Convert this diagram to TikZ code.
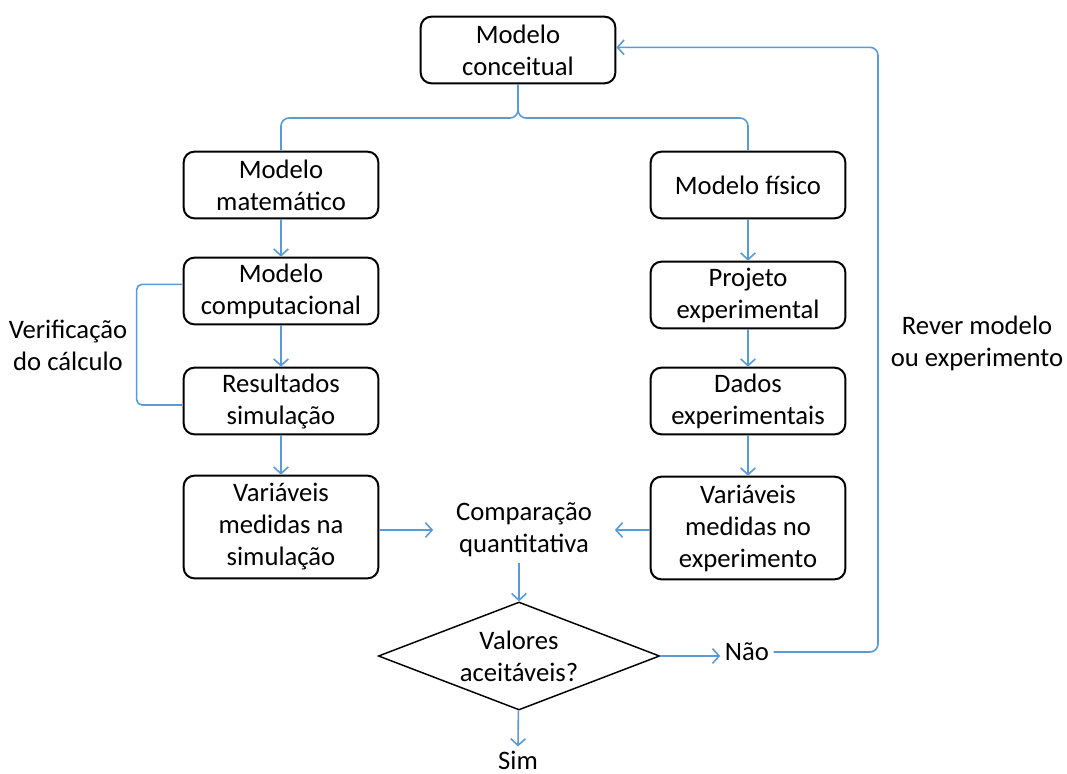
\documentclass[tikz,border=0pt]{standalone}
\usepackage{fontspec}
\setmainfont{Carlito}
\usetikzlibrary{positioning,shapes.geometric,arrows.meta}
\definecolor{linkblue}{RGB}{91,155,213}

\begin{document}
\begin{tikzpicture}[
                x=0.75pt, y=-0.75pt,
                every node/.append style={font=\fontsize{20}{24}\selectfont,align=center},
                box/.style={draw,line width=1.5pt,rounded corners=8pt,minimum width=146pt,minimum height=50pt,inner sep=2pt},
                tallbox/.style={box,minimum height=77pt},
                decision/.style={draw,diamond,aspect=2.6,line width=1.1pt,minimum width=211pt,minimum height=81pt,inner sep=0pt},
                link/.style={draw=linkblue,line width=1.2pt},
                arr/.style={link,-{Straight Barb[length=5pt,width=11pt]}}
            ]
                \useasboundingbox (0,0) rectangle (1067,774);

                % the two branches
                \node[box]      (con)    at (518,50)  {Modelo\\conceitual};
                \node[box]      (mat)    at (281,185) {Modelo\\matemático};
                \node[box]      (fis)    at (748,185) {Modelo físico};
                \node[box]      (comp)   at (281,291) {Modelo\\computacional};
                \node[box]      (proj)   at (748,295) {Projeto\\experimental};
                \node[box]      (res)    at (281,401) {Resultados\\simulação};
                \node[box]      (dados)  at (748,401) {Dados\\experimentais};
                \node[tallbox]  (varsim) at (281,527) {Variáveis\\medidas na\\simulação};
                \node[tallbox]  (varexp) at (748,528) {Variáveis\\medidas no\\experimento};

                % comparison and decision
                \node[inner xsep=17pt,inner ysep=4pt] (cmp) at (524,530) {Comparação\\quantitativa};
                \node[decision] (dec)    at (519,656) {Valores\\aceitáveis?};
                \node           (nao)    at (747,652) {Não};
                \node[inner sep=0pt] (sim) at (518,760) {Sim};

                % side labels
                \node (verif) at (68,345)  {Verificação\\do cálculo};
                \node (rever) at (977,343) {Rever modelo\\ou experimento};

                % brace below the conceptual model
                \coordinate (brace) at (518,118);
                \draw[link,rounded corners=6pt] (mat.north) |- (brace) -- (con.south);
                \draw[link,rounded corners=6pt] (fis.north) |- (brace) -- (con.south);

                \draw[arr] (mat)   -- (comp);
                \draw[arr] (comp)  -- (res);
                \draw[arr] (res)   -- (varsim);
                \draw[arr] (fis)   -- (proj);
                \draw[arr] (proj)  -- (dados);
                \draw[arr] (dados) -- (varexp);

                \draw[arr] (varsim.east |- cmp.west) -- (cmp.west);
                \draw[arr] (varexp.west |- cmp.east) -- (cmp.east);
                \draw[arr] (dec.north |- cmp.south) -- (dec.north);
                \draw[arr] (dec.east) -- (dec.east -| nao.west);
                \draw[arr] (dec) -- ([yshift=3pt]sim.north);

                % loop back and verification bracket
                \draw[arr,rounded corners=6pt] (nao) -- (878,652) |- ([yshift=2pt]con.east);
                \draw[link,rounded corners=4pt] ([yshift=5pt]comp.west) -- ++(-46,0) |- ([yshift=-3pt]res.west);
            \end{tikzpicture}
\end{document}
